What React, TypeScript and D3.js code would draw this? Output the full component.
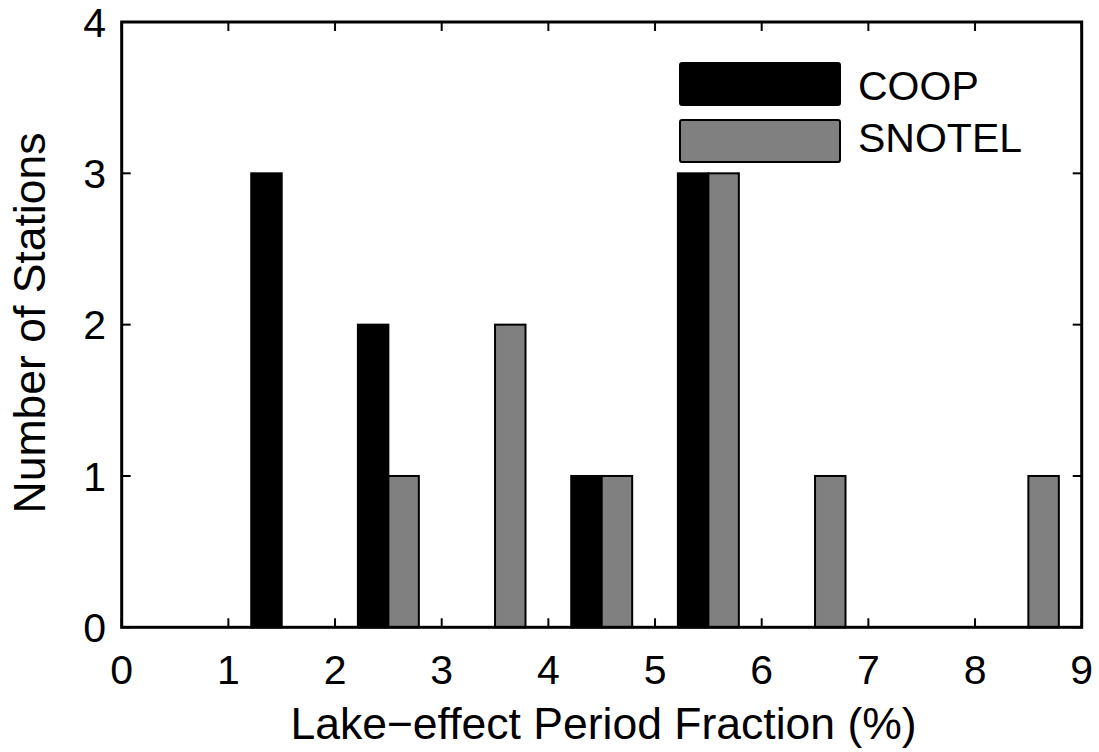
import React from "react";
import * as d3 from "d3";

const groups = [0.5, 1.5, 2.5, 3.5, 4.5, 5.5, 6.5, 7.5, 8.5];
const coop = [0, 3, 2, 0, 1, 3, 0, 0, 0];
const snotel = [0, 0, 1, 2, 1, 3, 1, 0, 1];
const seriesNames = ["COOP", "SNOTEL"];
const seriesColors = ["#000000", "#808080"];
const xTicks = [0, 1, 2, 3, 4, 5, 6, 7, 8, 9];
const yTicks = [0, 1, 2, 3, 4];

const W = 1099;
const H = 752;
const left = 121.7;
const right = 1081.7;
const top = 22;
const bottom = 627.3;
const font = "'Liberation Sans', Arial, Helvetica, sans-serif";
const tickFont = 41;
const labelFont = 44.5;

export default function App() {
  const x = d3.scaleLinear().domain([0, 9]).range([left, right]);
  const y = d3.scaleLinear().domain([0, 4]).range([bottom, top]);
  const barW = 2 / 7; // MATLAB grouped bar width for two series
  const series = [coop, snotel];
  const tickLen = 9;

  return (
    <svg
      width={W}
      height={H}
      style={{ position: "absolute", left: 0, top: 0, background: "#fff" }}
    >
      <rect x={0} y={0} width={W} height={H} fill="#fff" />
      {series.map((vals, si) =>
        vals.map((v, i) => {
          const x0 = x(groups[i] - barW + si * barW);
          const x1 = x(groups[i] + si * barW);
          return (
            <rect
              key={`${si}-${i}`}
              x={x0}
              y={y(v)}
              width={x1 - x0}
              height={y(0) - y(v)}
              fill={seriesColors[si]}
              stroke="#000"
              strokeWidth={2}
            />
          );
        })
      )}
      <rect
        x={left}
        y={top}
        width={right - left}
        height={bottom - top}
        fill="none"
        stroke="#000"
        strokeWidth={3}
      />
      {xTicks.map((t) => (
        <g key={`xt${t}`}>
          <line x1={x(t)} x2={x(t)} y1={bottom} y2={bottom - tickLen} stroke="#000" strokeWidth={2} />
          <line x1={x(t)} x2={x(t)} y1={top} y2={top + tickLen} stroke="#000" strokeWidth={2} />
          <text
            x={x(t)}
            y={684}
            textAnchor="middle"
            fontFamily={font}
            fontSize={tickFont}
            fill="#000"
          >
            {t}
          </text>
        </g>
      ))}
      {yTicks.map((t) => (
        <g key={`yt${t}`}>
          <line x1={left} x2={left + tickLen} y1={y(t)} y2={y(t)} stroke="#000" strokeWidth={2} />
          <line x1={right} x2={right - tickLen} y1={y(t)} y2={y(t)} stroke="#000" strokeWidth={2} />
          <text
            x={106}
            y={y(t)}
            dy="0.36em"
            textAnchor="end"
            fontFamily={font}
            fontSize={tickFont}
            fill="#000"
          >
            {t}
          </text>
        </g>
      ))}
      <text
        x={603.5}
        y={739}
        textAnchor="middle"
        fontFamily={font}
        fontSize={labelFont}
        fill="#000"
      >
        Lake−effect Period Fraction (%)
      </text>
      <text
        transform={`translate(45,323) rotate(-90)`}
        textAnchor="middle"
        fontFamily={font}
        fontSize={labelFont}
        fill="#000"
      >
        Number of Stations
      </text>
      {seriesNames.map((name, i) => (
        <g key={name}>
          <rect
            x={680}
            y={63 + i * 57}
            width={160}
            height={42}
            rx={2}
            fill={seriesColors[i]}
            stroke="#000"
            strokeWidth={2}
          />
          <text
            x={858}
            y={100 + i * 52}
            fontFamily={font}
            fontSize={tickFont}
            fill="#000"
          >
            {name}
          </text>
        </g>
      ))}
    </svg>
  );
}
